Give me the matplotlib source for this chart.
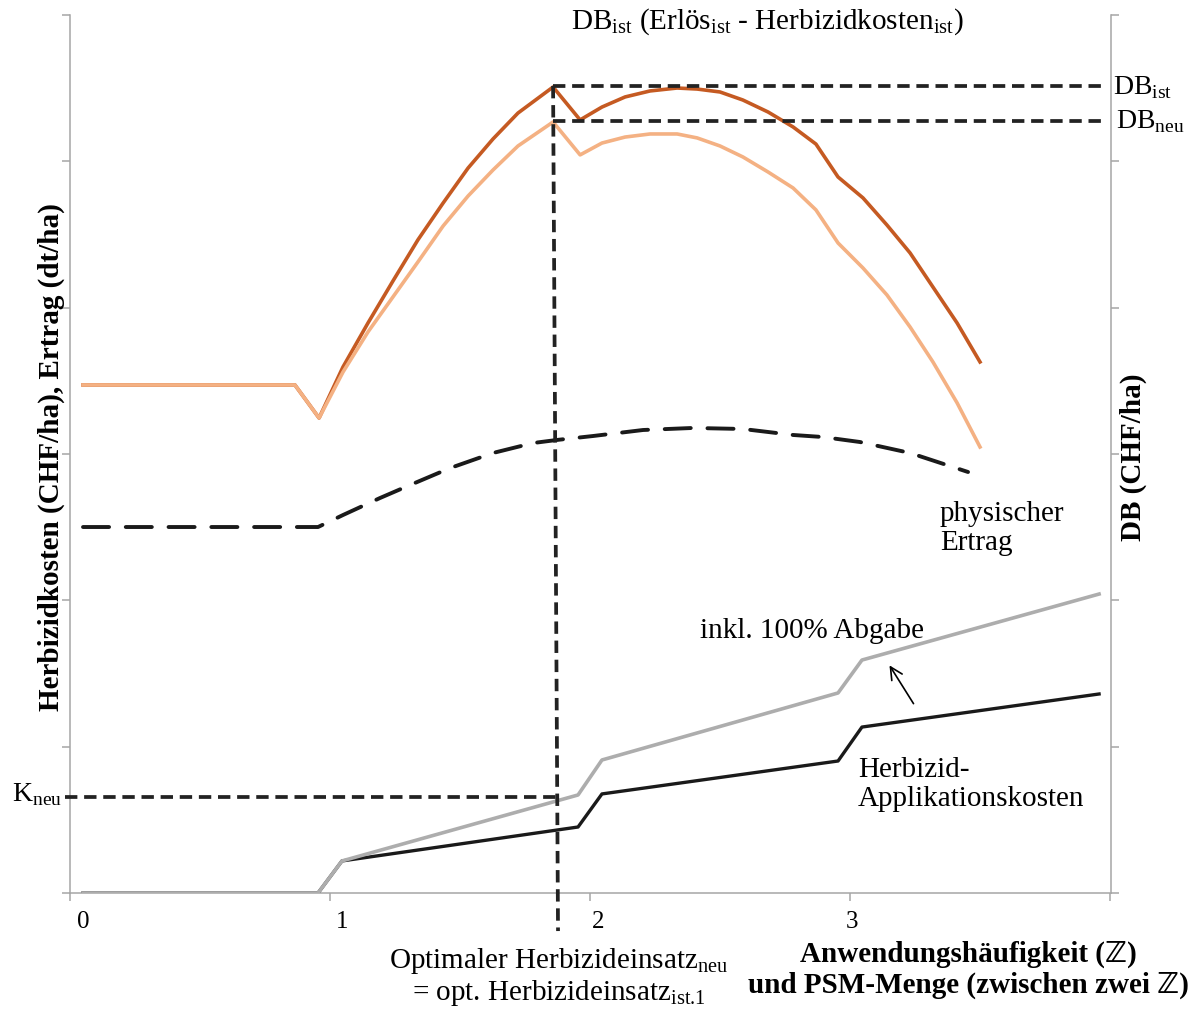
import matplotlib
matplotlib.use("Agg")
import matplotlib.pyplot as plt

plt.rcParams['font.family'] = ['Liberation Serif', 'DejaVu Serif', 'DejaVu Sans']
plt.rcParams['mathtext.fontset'] = 'custom'
plt.rcParams['mathtext.rm'] = 'Liberation Serif'

# ---- data (x in units of application frequency axis, y in axis units 0..6) ----
db_ist_x = [0.05, 0.865, 0.958, 1.05, 1.146, 1.242, 1.338, 1.435, 1.531, 1.627, 1.723, 1.858,
            1.962, 2.046, 2.135, 2.231, 2.335, 2.412, 2.5, 2.588, 2.685, 2.781, 2.869, 2.954,
            3.05, 3.142, 3.231, 3.319, 3.412, 3.5]
db_ist_y = [3.472, 3.472, 3.246, 3.595, 3.895, 4.182, 4.463, 4.715, 4.954, 5.153, 5.330, 5.508,
            5.283, 5.371, 5.440, 5.481, 5.501, 5.494, 5.474, 5.419, 5.337, 5.235, 5.118, 4.893,
            4.750, 4.565, 4.374, 4.141, 3.895, 3.629]
db_neu_x = db_ist_x
db_neu_y = [3.472, 3.472, 3.246, 3.560, 3.834, 4.073, 4.312, 4.558, 4.763, 4.941, 5.105, 5.269,
            5.044, 5.125, 5.166, 5.187, 5.187, 5.160, 5.105, 5.030, 4.927, 4.818, 4.668, 4.442,
            4.271, 4.087, 3.868, 3.629, 3.349, 3.048]
ertrag_x = [0.05, 0.954, 1.05, 1.192, 1.308, 1.462, 1.627, 1.781, 1.873, 2.012, 2.204, 2.396,
            2.588, 2.781, 2.896, 3.038, 3.231, 3.454]
ertrag_y = [2.501, 2.501, 2.583, 2.699, 2.788, 2.904, 3.007, 3.075, 3.096, 3.123, 3.164, 3.178,
            3.171, 3.130, 3.116, 3.082, 3.007, 2.877]
kosten_x = [0.05, 0.954, 1.046, 1.954, 2.046, 2.954, 3.046, 3.958]
kosten_y = [0.0, 0.0, 0.219, 0.451, 0.677, 0.902, 1.134, 1.360]
kosten_abg_y = [0.0, 0.0, 0.219, 0.670, 0.909, 1.367, 1.592, 2.043]

db_ist_level = 5.515
db_neu_level = 5.276
k_neu_level = 0.656
x_opt_top = 1.858
x_opt_bottom = 1.877

x_tick_pos = [0, 1, 2, 3, 4]
x_label_pos = [0.05, 1.046, 2.03, 3.008]
x_labels = ['0', '1', '2', '3']
y_tick_pos = [0, 1, 2, 3, 4, 5, 6]

# ---- figure ----
W, H = 1201, 1010
fig = plt.figure(figsize=(W / 100, H / 100), dpi=100)
ax = fig.add_axes([70 / W, (H - 893) / H, (1111 - 70) / W, (893 - 15) / H])
ax.set_xlim(0, (1111 - 70) / 260)
ax.set_ylim(0, 6)

spine_c = '#A6A6A6'
for s in ['left', 'right', 'bottom']:
    ax.spines[s].set_color(spine_c)
    ax.spines[s].set_linewidth(1.1)
ax.spines['top'].set_visible(False)

ax.set_yticks(y_tick_pos)
ax.set_yticklabels([])
ax.tick_params(axis='y', which='major', left=True, right=True, direction='out',
               length=6, width=1.1, color=spine_c)
ax.set_xticks(x_tick_pos)
ax.set_xticklabels([])
ax.tick_params(axis='x', which='major', direction='out', length=6, width=1.1, color=spine_c)
ax.set_xticks(x_label_pos, minor=True)
ax.set_xticklabels(x_labels, minor=True, fontsize=18)
ax.tick_params(axis='x', which='minor', length=0, pad=13)

dark_or = '#C55A22'
light_or = '#F4B183'

ax.plot(db_ist_x, db_ist_y, color=dark_or, lw=2.6, zorder=3)
ax.plot(db_neu_x, db_neu_y, color=light_or, lw=2.6, zorder=3)
ax.plot(ertrag_x, ertrag_y, color='#1A1A1A', lw=2.8, dashes=(6.7, 4.3),
        dash_capstyle='round', zorder=3)
ax.plot(kosten_x, kosten_y, color='#1A1A1A', lw=2.4, zorder=3)
ax.plot(kosten_x, kosten_abg_y, color='#ADADAD', lw=2.6, zorder=4)

ref_kw = dict(color='#222222', lw=2.7, dashes=(3.3, 1.8), zorder=5, clip_on=False)
ax.plot([x_opt_top, 3.98], [db_ist_level, db_ist_level], **ref_kw)
ax.plot([x_opt_top, 3.98], [db_neu_level, db_neu_level], **ref_kw)
ax.plot([x_opt_top, x_opt_bottom], [db_ist_level, -0.26], **ref_kw)
ax.plot([-0.02, x_opt_bottom], [k_neu_level, k_neu_level], **ref_kw)

def px(xp, yp):
    return ((xp - 70) / 260, (893 - yp) / 146.33)

R = r'\mathregular'
ax.text(*px(767, 22), r'DB$_{%s{ist}}$ (Erlös$_{%s{ist}}$ - Herbizidkosten$_{%s{ist}}$)' % (R, R, R),
        fontsize=21, ha='center', va='center', clip_on=False)
ax.text(*px(1113, 88), r'DB$_{%s{ist}}$' % R, fontsize=20, ha='left', va='center', clip_on=False)
ax.text(*px(1116, 122), r'DB$_{%s{neu}}$' % R, fontsize=20, ha='left', va='center', clip_on=False)
ax.text(*px(62, 795), r'K$_{%s{neu}}$' % R, fontsize=20, ha='right', va='center', clip_on=False)
ax.text(*px(940, 529), 'physischer\nErtrag', fontsize=21, ha='left', va='center',
        linespacing=1.15)
ax.text(*px(700, 631), 'inkl. 100% Abgabe', fontsize=21, ha='left', va='center')
ax.text(*px(858, 785), 'Herbizid-\nApplikationskosten', fontsize=21, ha='left', va='center',
        linespacing=1.15)
ax.text(*px(559, 977), 'Optimaler Herbizideinsatz$_{%s{neu}}$\n= opt. Herbizideinsatz$_{\\text{ist.1}}$' % R,
        fontsize=21, ha='center', va='center', linespacing=1.05, clip_on=False)
ax.annotate('', xy=px(888, 663), xytext=px(915, 706),
            arrowprops=dict(arrowstyle='->', color='black', lw=1.2, mutation_scale=22))

fig.text(51 / W, 1 - 457 / H, 'Herbizidkosten (CHF/ha), Ertrag (dt/ha)', rotation=90,
         fontsize=21, fontweight='bold', ha='center', va='center')
fig.text(1133 / W, 1 - 457 / H, 'DB (CHF/ha)', rotation=90,
         fontsize=21, fontweight='bold', ha='center', va='center')
fig.text(968 / W, 1 - 970 / H, 'Anwendungshäufigkeit (ℤ)\nund PSM-Menge (zwischen zwei ℤ)',
         fontsize=21, fontweight='bold', ha='center', va='center', linespacing=1.15)

fig.savefig('out.png', dpi=100)
